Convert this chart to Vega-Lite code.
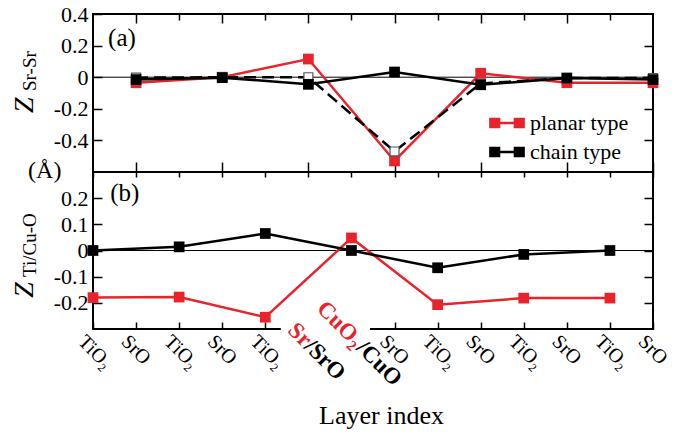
{
  "$schema": "https://vega.github.io/schema/vega-lite/v6.json",
  "background": "white",
  "padding": {"left": 10, "top": 2, "right": 0, "bottom": 2},
  "datasets": {
    "top": [
      {"idx": 1, "z": -0.035, "type": "planar type"},
      {"idx": 3, "z": 0.0, "type": "planar type"},
      {"idx": 5, "z": 0.115, "type": "planar type"},
      {"idx": 7, "z": -0.53, "type": "planar type"},
      {"idx": 9, "z": 0.025, "type": "planar type"},
      {"idx": 11, "z": -0.035, "type": "planar type"},
      {"idx": 13, "z": -0.035, "type": "planar type"},
      {"idx": 1, "z": -0.015, "type": "chain type"},
      {"idx": 3, "z": -0.003, "type": "chain type"},
      {"idx": 5, "z": -0.045, "type": "chain type"},
      {"idx": 7, "z": 0.033, "type": "chain type"},
      {"idx": 9, "z": -0.048, "type": "chain type"},
      {"idx": 11, "z": -0.005, "type": "chain type"},
      {"idx": 13, "z": -0.015, "type": "chain type"}
    ],
    "topDash": [
      {"idx": 1, "z": -0.003},
      {"idx": 3, "z": 0.0},
      {"idx": 5, "z": 0.0},
      {"idx": 7, "z": -0.47},
      {"idx": 9, "z": -0.04},
      {"idx": 11, "z": -0.005},
      {"idx": 13, "z": -0.005}
    ],
    "bottom": [
      {"idx": 0, "z": -0.18, "type": "planar type"},
      {"idx": 2, "z": -0.178, "type": "planar type"},
      {"idx": 4, "z": -0.255, "type": "planar type"},
      {"idx": 6, "z": 0.048, "type": "planar type"},
      {"idx": 8, "z": -0.207, "type": "planar type"},
      {"idx": 10, "z": -0.182, "type": "planar type"},
      {"idx": 12, "z": -0.182, "type": "planar type"},
      {"idx": 0, "z": 0.0, "type": "chain type"},
      {"idx": 2, "z": 0.014, "type": "chain type"},
      {"idx": 4, "z": 0.065, "type": "chain type"},
      {"idx": 6, "z": 0.0, "type": "chain type"},
      {"idx": 8, "z": -0.066, "type": "chain type"},
      {"idx": 10, "z": -0.015, "type": "chain type"},
      {"idx": 12, "z": 0.0, "type": "chain type"}
    ],
    "one": [{}]
  },
  "config": {
    "font": "Liberation Serif",
    "view": {"stroke": "black", "strokeWidth": 2},
    "axis": {"domain": false, "grid": false, "tickColor": "black", "tickWidth": 1.5, "labelFont": "Liberation Serif", "labelFontSize": 22, "labelColor": "black", "labelOverlap": false, "titleFont": "Liberation Serif", "titleColor": "black", "titleFontWeight": "normal"},
    "text": {"font": "Liberation Serif", "color": "black"}
  },
  "spacing": 0,
  "bounds": "flush",
  "resolve": {"scale": {"color": "independent"}, "legend": {"color": "independent"}},
  "vconcat": [
    {
      "width": 560,
      "height": 158,
      "resolve": {"axis": {"x": "independent", "y": "independent"}},
      "layer": [
        {
          "data": {"name": "one"},
          "mark": {"type": "rule", "color": "black", "strokeWidth": 1},
          "encoding": {
            "y": {"datum": 0, "type": "quantitative", "scale": {"domain": [-0.6, 0.4], "nice": false, "zero": false}, "axis": null}
          }
        },
        {
          "data": {"name": "top"},
          "mark": {"type": "point", "opacity": 0},
          "encoding": {
            "x": {"field": "idx", "type": "quantitative", "scale": {"domain": [0, 13], "nice": false, "zero": false},
              "axis": {"orient": "top", "values": [2, 4, 6, 8, 10, 12], "labels": false, "tickSize": -6, "title": null}},
            "y": {"field": "z", "type": "quantitative", "scale": {"domain": [-0.6, 0.4], "nice": false, "zero": false}, "axis": null}
          }
        },
        {
          "data": {"name": "top"},
          "transform": [{"filter": {"field": "type", "equal": "planar type"}}],
          "mark": {"type": "line", "strokeWidth": 2.5},
          "encoding": {
            "x": {"field": "idx", "type": "quantitative", "scale": {"domain": [0, 13], "nice": false, "zero": false},
              "axis": {"orient": "bottom", "values": [1, 3, 5, 7, 9, 11, 13], "labels": false, "tickSize": -10, "title": null}},
            "y": {"field": "z", "type": "quantitative", "scale": {"domain": [-0.6, 0.4], "nice": false, "zero": false},
              "axis": {"orient": "left", "values": [-0.4, -0.2, 0, 0.2, 0.4], "tickSize": -9, "labelPadding": 14, "title": null,
                "labelExpr": "datum.value == 0 ? '0' : (datum.value < 0 ? '-' + format(-datum.value, '.1f') : format(datum.value, '.1f'))"}},
            "color": {"field": "type", "type": "nominal", "scale": {"domain": ["planar type", "chain type"], "range": ["#e8232b", "#000000"]},
              "legend": {"orient": "none", "legendX": 396, "legendY": 91, "title": null, "padding": 0, "rowPadding": -6,
                "labelFont": "Liberation Serif", "labelFontSize": 22, "labelColor": "black", "labelOffset": 5,
                "symbolType": "M-1,-0.24H-0.48V0.24H-1Z M0.48,-0.24H1V0.24H0.48Z M-0.5,0H0.5",
                "symbolSize": 1100, "symbolStrokeWidth": 2.5}}
          }
        },
        {
          "data": {"name": "top"},
          "transform": [{"filter": {"field": "type", "equal": "planar type"}}],
          "mark": {"type": "point", "shape": "square", "filled": true, "size": 115, "opacity": 1},
          "encoding": {
            "x": {"field": "idx", "type": "quantitative", "scale": {"domain": [0, 13], "nice": false, "zero": false}, "axis": null},
            "y": {"field": "z", "type": "quantitative", "scale": {"domain": [-0.6, 0.4], "nice": false, "zero": false}, "axis": null},
            "color": {"field": "type", "type": "nominal", "scale": {"domain": ["planar type", "chain type"], "range": ["#e8232b", "#000000"]}}
          }
        },
        {
          "data": {"name": "topDash"},
          "mark": {"type": "line", "strokeWidth": 2.5, "color": "black", "strokeDash": [12, 6]},
          "encoding": {
            "x": {"field": "idx", "type": "quantitative", "scale": {"domain": [0, 13], "nice": false, "zero": false}, "axis": null},
            "y": {"field": "z", "type": "quantitative", "scale": {"domain": [-0.6, 0.4], "nice": false, "zero": false}, "axis": null}
          }
        },
        {
          "data": {"name": "topDash"},
          "mark": {"type": "point", "shape": "square", "filled": false, "fill": "white", "stroke": "#555555", "strokeWidth": 1.2, "size": 80, "opacity": 1},
          "encoding": {
            "x": {"field": "idx", "type": "quantitative", "scale": {"domain": [0, 13], "nice": false, "zero": false},
              "axis": {"orient": "top", "values": [1, 3, 5, 7, 9, 11], "labels": false, "tickSize": -9, "title": null}},
            "y": {"field": "z", "type": "quantitative", "scale": {"domain": [-0.6, 0.4], "nice": false, "zero": false},
              "axis": {"orient": "right", "values": [-0.4, -0.2, 0, 0.2], "labels": false, "tickSize": -9, "title": null}}
          }
        },
        {
          "data": {"name": "top"},
          "transform": [{"filter": {"field": "type", "equal": "chain type"}}],
          "mark": {"type": "line", "strokeWidth": 2.5},
          "encoding": {
            "x": {"field": "idx", "type": "quantitative", "scale": {"domain": [0, 13], "nice": false, "zero": false}, "axis": null},
            "y": {"field": "z", "type": "quantitative", "scale": {"domain": [-0.6, 0.4], "nice": false, "zero": false}, "axis": null},
            "color": {"field": "type", "type": "nominal", "scale": {"domain": ["planar type", "chain type"], "range": ["#e8232b", "#000000"]}}
          }
        },
        {
          "data": {"name": "top"},
          "transform": [{"filter": {"field": "type", "equal": "chain type"}}],
          "mark": {"type": "point", "shape": "square", "filled": true, "size": 115, "opacity": 1},
          "encoding": {
            "x": {"field": "idx", "type": "quantitative", "scale": {"domain": [0, 13], "nice": false, "zero": false}, "axis": null},
            "y": {"field": "z", "type": "quantitative", "scale": {"domain": [-0.6, 0.4], "nice": false, "zero": false}, "axis": null},
            "color": {"field": "type", "type": "nominal", "scale": {"domain": ["planar type", "chain type"], "range": ["#e8232b", "#000000"]}}
          }
        },
        {
          "data": {"name": "one"},
          "mark": {"type": "text", "text": "(a)", "fontSize": 25, "align": "left", "baseline": "middle"},
          "encoding": {
            "x": {"datum": 0.35, "type": "quantitative", "scale": {"domain": [0, 13], "nice": false, "zero": false}, "axis": null},
            "y": {"datum": 0.25, "type": "quantitative", "scale": {"domain": [-0.6, 0.4], "nice": false, "zero": false}, "axis": null}
          }
        },
        {
          "data": {"name": "one"},
          "mark": {"type": "text", "text": "Z", "fontSize": 28, "fontStyle": "italic", "angle": 270, "align": "left", "baseline": "alphabetic"},
          "encoding": {
            "x": {"datum": -1.39, "type": "quantitative", "scale": {"domain": [0, 13], "nice": false, "zero": false}, "axis": null},
            "y": {"datum": -0.227, "type": "quantitative", "scale": {"domain": [-0.6, 0.4], "nice": false, "zero": false}, "axis": null}
          }
        },
        {
          "data": {"name": "one"},
          "mark": {"type": "text", "text": "Sr-Sr", "fontSize": 19, "angle": 270, "align": "left", "baseline": "alphabetic"},
          "encoding": {
            "x": {"datum": -1.33, "type": "quantitative", "scale": {"domain": [0, 13], "nice": false, "zero": false}, "axis": null},
            "y": {"datum": -0.087, "type": "quantitative", "scale": {"domain": [-0.6, 0.4], "nice": false, "zero": false}, "axis": null}
          }
        },
        {
          "data": {"name": "one"},
          "mark": {"type": "text", "text": "(Å)", "fontSize": 24, "align": "center", "baseline": "middle"},
          "encoding": {
            "x": {"datum": -1.12, "type": "quantitative", "scale": {"domain": [0, 13], "nice": false, "zero": false}, "axis": null},
            "y": {"datum": -0.595, "type": "quantitative", "scale": {"domain": [-0.6, 0.4], "nice": false, "zero": false}, "axis": null}
          }
        }
      ]
    },
    {
      "width": 560,
      "height": 157,
      "resolve": {"axis": {"x": "independent", "y": "independent"}},
      "layer": [
        {
          "data": {"name": "one"},
          "mark": {"type": "rule", "color": "black", "strokeWidth": 1},
          "encoding": {
            "y": {"datum": 0, "type": "quantitative", "scale": {"domain": [-0.3, 0.3], "nice": false, "zero": false}, "axis": null}
          }
        },
        {
          "data": {"name": "bottom"},
          "mark": {"type": "point", "opacity": 0},
          "encoding": {
            "x": {"field": "idx", "type": "quantitative", "scale": {"domain": [0, 13], "nice": false, "zero": false},
              "axis": {"orient": "top", "values": [0, 1, 2, 3, 4, 5, 6, 7, 8, 9, 10, 11, 12, 13], "labels": false, "tickSize": -5, "title": null}},
            "y": {"field": "z", "type": "quantitative", "scale": {"domain": [-0.3, 0.3], "nice": false, "zero": false}, "axis": null}
          }
        },
        {
          "data": {"name": "one"},
          "mark": {"type": "rect", "color": "white"},
          "encoding": {
            "x": {"datum": 4.36, "type": "quantitative", "scale": {"domain": [0, 13], "nice": false, "zero": false}, "axis": null},
            "x2": {"datum": 6.43},
            "y": {"datum": -0.262, "type": "quantitative", "scale": {"domain": [-0.3, 0.3], "nice": false, "zero": false}, "axis": null},
            "y2": {"datum": -0.335}
          }
        },
        {
          "data": {"name": "bottom"},
          "transform": [{"filter": {"field": "type", "equal": "planar type"}}],
          "mark": {"type": "line", "strokeWidth": 2.5, "color": "#e8232b"},
          "encoding": {
            "x": {"field": "idx", "type": "quantitative", "scale": {"domain": [0, 13], "nice": false, "zero": false},
              "axis": {"orient": "bottom", "values": [0, 1, 2, 3, 4, 7, 8, 9, 10, 11, 12, 13], "tickSize": -7, "labelAngle": 45, "labelAlign": "left", "labelBaseline": "top", "labelPadding": 9, "labelOffset": -5, "labelFontSize": 20, "labelOverlap": false,
                "labelExpr": "['TiO₂','SrO','TiO₂','SrO','TiO₂','','','SrO','TiO₂','SrO','TiO₂','SrO','TiO₂','SrO'][datum.value]",
                "title": "Layer index", "titleFontSize": 26, "titlePadding": 30, "titleX": 288, "titleAlign": "center"}},
            "y": {"field": "z", "type": "quantitative", "scale": {"domain": [-0.3, 0.3], "nice": false, "zero": false},
              "axis": {"orient": "left", "values": [-0.2, -0.1, 0, 0.1, 0.2], "tickSize": -9, "labelPadding": 14, "title": null,
                "labelExpr": "datum.value == 0 ? '0' : (datum.value < 0 ? '-' + format(-datum.value, '.1f') : format(datum.value, '.1f'))"}}
          }
        },
        {
          "data": {"name": "bottom"},
          "transform": [{"filter": {"field": "type", "equal": "planar type"}}],
          "mark": {"type": "point", "shape": "square", "filled": true, "size": 115, "opacity": 1, "color": "#e8232b"},
          "encoding": {
            "x": {"field": "idx", "type": "quantitative", "scale": {"domain": [0, 13], "nice": false, "zero": false}, "axis": null},
            "y": {"field": "z", "type": "quantitative", "scale": {"domain": [-0.3, 0.3], "nice": false, "zero": false},
              "axis": {"orient": "right", "values": [-0.2, -0.1, 0, 0.1, 0.2], "labels": false, "tickSize": -9, "title": null}}
          }
        },
        {
          "data": {"name": "bottom"},
          "transform": [{"filter": {"field": "type", "equal": "chain type"}}],
          "mark": {"type": "line", "strokeWidth": 2.5, "color": "black"},
          "encoding": {
            "x": {"field": "idx", "type": "quantitative", "scale": {"domain": [0, 13], "nice": false, "zero": false}, "axis": null},
            "y": {"field": "z", "type": "quantitative", "scale": {"domain": [-0.3, 0.3], "nice": false, "zero": false}, "axis": null}
          }
        },
        {
          "data": {"name": "bottom"},
          "transform": [{"filter": {"field": "type", "equal": "chain type"}}],
          "mark": {"type": "point", "shape": "square", "filled": true, "size": 115, "opacity": 1, "color": "black"},
          "encoding": {
            "x": {"field": "idx", "type": "quantitative", "scale": {"domain": [0, 13], "nice": false, "zero": false}, "axis": null},
            "y": {"field": "z", "type": "quantitative", "scale": {"domain": [-0.3, 0.3], "nice": false, "zero": false}, "axis": null}
          }
        },
        {
          "data": {"name": "one"},
          "mark": {"type": "text", "text": "(b)", "fontSize": 25, "align": "left", "baseline": "middle"},
          "encoding": {
            "x": {"datum": 0.4, "type": "quantitative", "scale": {"domain": [0, 13], "nice": false, "zero": false}, "axis": null},
            "y": {"datum": 0.22, "type": "quantitative", "scale": {"domain": [-0.3, 0.3], "nice": false, "zero": false}, "axis": null}
          }
        },
        {
          "data": {"name": "one"},
          "mark": {"type": "text", "text": "Z", "fontSize": 28, "fontStyle": "italic", "angle": 270, "align": "left", "baseline": "alphabetic"},
          "encoding": {
            "x": {"datum": -1.39, "type": "quantitative", "scale": {"domain": [0, 13], "nice": false, "zero": false}, "axis": null},
            "y": {"datum": -0.181, "type": "quantitative", "scale": {"domain": [-0.3, 0.3], "nice": false, "zero": false}, "axis": null}
          }
        },
        {
          "data": {"name": "one"},
          "mark": {"type": "text", "text": "Ti/Cu-O", "fontSize": 19, "angle": 270, "align": "left", "baseline": "alphabetic"},
          "encoding": {
            "x": {"datum": -1.33, "type": "quantitative", "scale": {"domain": [0, 13], "nice": false, "zero": false}, "axis": null},
            "y": {"datum": -0.101, "type": "quantitative", "scale": {"domain": [-0.3, 0.3], "nice": false, "zero": false}, "axis": null}
          }
        },
        {
          "data": {"name": "one"},
          "mark": {"type": "text", "text": "Sr", "fontSize": 23, "fontWeight": "bold", "color": "#e8232b", "angle": 45, "align": "left", "baseline": "alphabetic"},
          "encoding": {
            "x": {"datum": 4.5, "type": "quantitative", "scale": {"domain": [0, 13], "nice": false, "zero": false}, "axis": null},
            "y": {"datum": -0.31, "type": "quantitative", "scale": {"domain": [-0.3, 0.3], "nice": false, "zero": false}, "axis": null}
          }
        },
        {
          "data": {"name": "one"},
          "mark": {"type": "text", "text": "/SrO", "fontSize": 23, "fontWeight": "bold", "color": "black", "angle": 45, "align": "left", "baseline": "alphabetic", "dx": 23},
          "encoding": {
            "x": {"datum": 4.5, "type": "quantitative", "scale": {"domain": [0, 13], "nice": false, "zero": false}, "axis": null},
            "y": {"datum": -0.31, "type": "quantitative", "scale": {"domain": [-0.3, 0.3], "nice": false, "zero": false}, "axis": null}
          }
        },
        {
          "data": {"name": "one"},
          "mark": {"type": "text", "text": "CuO", "fontSize": 23, "fontWeight": "bold", "color": "#e8232b", "angle": 45, "align": "left", "baseline": "alphabetic"},
          "encoding": {
            "x": {"datum": 5.17, "type": "quantitative", "scale": {"domain": [0, 13], "nice": false, "zero": false}, "axis": null},
            "y": {"datum": -0.226, "type": "quantitative", "scale": {"domain": [-0.3, 0.3], "nice": false, "zero": false}, "axis": null}
          }
        },
        {
          "data": {"name": "one"},
          "mark": {"type": "text", "text": "2", "fontSize": 15, "fontWeight": "bold", "color": "#e8232b", "angle": 45, "align": "left", "baseline": "alphabetic", "dx": 47, "dy": 5},
          "encoding": {
            "x": {"datum": 5.17, "type": "quantitative", "scale": {"domain": [0, 13], "nice": false, "zero": false}, "axis": null},
            "y": {"datum": -0.226, "type": "quantitative", "scale": {"domain": [-0.3, 0.3], "nice": false, "zero": false}, "axis": null}
          }
        },
        {
          "data": {"name": "one"},
          "mark": {"type": "text", "text": "/CuO", "fontSize": 23, "fontWeight": "bold", "color": "black", "angle": 45, "align": "left", "baseline": "alphabetic", "dx": 56},
          "encoding": {
            "x": {"datum": 5.17, "type": "quantitative", "scale": {"domain": [0, 13], "nice": false, "zero": false}, "axis": null},
            "y": {"datum": -0.226, "type": "quantitative", "scale": {"domain": [-0.3, 0.3], "nice": false, "zero": false}, "axis": null}
          }
        }
      ]
    }
  ]
}
